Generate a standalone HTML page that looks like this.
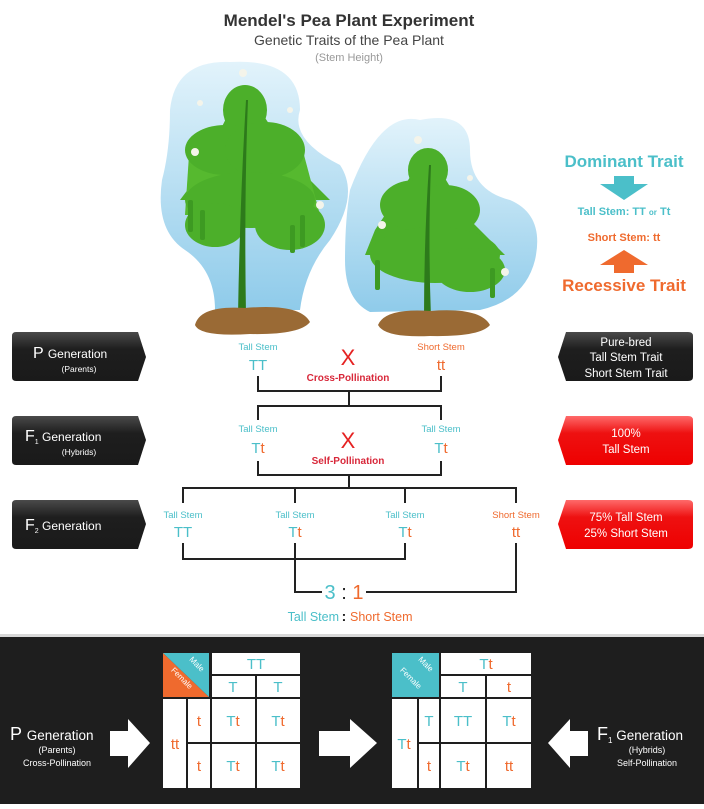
<!DOCTYPE html>
<html><head><meta charset="utf-8"><style>
body{margin:0;background:#fff;}
svg text{font-family:"Liberation Sans",sans-serif;}
</style></head><body>
<svg width="704" height="804" viewBox="0 0 704 804" xmlns="http://www.w3.org/2000/svg">
<defs>
<linearGradient id="sky" x1="0" y1="0" x2="0" y2="1"><stop offset="0" stop-color="#e2f3fb"/><stop offset="1" stop-color="#8fcbea"/></linearGradient>
<linearGradient id="dk" x1="0" y1="0" x2="0" y2="1"><stop offset="0" stop-color="#4a4a4a"/><stop offset="0.35" stop-color="#1e1e1e"/><stop offset="1" stop-color="#1a1a1a"/></linearGradient>
<linearGradient id="rd" x1="0" y1="0" x2="0" y2="1"><stop offset="0" stop-color="#ff6a6a"/><stop offset="0.35" stop-color="#ee1111"/><stop offset="1" stop-color="#e00"/></linearGradient>
</defs>
<text x="349" y="26" text-anchor="middle" font-size="17" font-weight="bold" fill="#333">Mendel's Pea Plant Experiment</text>
<text x="349" y="45" text-anchor="middle" font-size="14" fill="#444">Genetic Traits of the Pea Plant</text>
<text x="349" y="61" text-anchor="middle" font-size="11" fill="#999">(Stem Height)</text>

<path d="M170,110 Q175,60 230,62 Q300,58 300,110 Q290,140 340,165 Q360,195 330,240 Q305,270 300,310 L215,310 Q215,270 185,250 Q155,230 162,180 Q170,150 170,110Z" fill="url(#sky)"/>
<path d="M350,190 Q380,110 420,120 Q470,110 470,150 Q470,190 510,200 Q545,215 535,260 Q525,300 480,310 L370,312 Q345,300 345,260 Q345,220 350,190Z" fill="url(#sky)"/>
<g fill="#4caf2a">
<path d="M243,85 L195,180 L180,200 L330,200 L300,170Z"/>
<path d="M190,140 L300,140 L320,215 L185,215Z" fill="#56b92f"/>
<ellipse cx="245" cy="110" rx="22" ry="25"/>
<ellipse cx="225" cy="150" rx="40" ry="25"/>
<ellipse cx="265" cy="150" rx="40" ry="28"/>
<ellipse cx="250" cy="200" rx="65" ry="28"/>
<ellipse cx="290" cy="225" rx="35" ry="25"/>
<ellipse cx="215" cy="225" rx="30" ry="22"/>
</g>
<g fill="#3d9a22">
<rect x="188" y="200" width="5" height="32" rx="2"/><rect x="200" y="210" width="5" height="30" rx="2"/><rect x="300" y="215" width="5" height="32" rx="2"/><rect x="290" y="225" width="5" height="28" rx="2"/>
</g>
<path d="M248,100 Q244,200 246,315 L238,315 Q240,200 246,100Z" fill="#2d7a1b"/>
<path d="M195,325 Q200,305 245,308 Q300,303 310,322 Q300,335 250,334 Q200,337 195,325Z" fill="#9a6a35"/>
<g fill="#4caf2a">
<path d="M428,150 L375,230 L365,255 L505,255 L470,220Z"/>
<ellipse cx="428" cy="170" rx="20" ry="22"/>
<ellipse cx="415" cy="205" rx="35" ry="25"/>
<ellipse cx="445" cy="210" rx="35" ry="25"/>
<ellipse cx="435" cy="255" rx="65" ry="28"/>
<ellipse cx="470" cy="270" rx="35" ry="22"/>
</g>
<g fill="#3d9a22"><rect x="375" y="260" width="5" height="30" rx="2"/><rect x="490" y="268" width="5" height="30" rx="2"/></g>
<path d="M431,165 Q428,240 431,318 L424,318 Q424,240 429,165Z" fill="#2d7a1b"/>
<path d="M378,325 Q385,308 430,311 Q480,307 490,325 Q480,337 430,336 Q385,338 378,325Z" fill="#9a6a35"/>
<g fill="#f4f4ea"><circle cx="243" cy="73" r="4"/><circle cx="200" cy="103" r="3"/><circle cx="195" cy="152" r="4"/><circle cx="320" cy="205" r="4"/><circle cx="290" cy="110" r="3"/><circle cx="418" cy="140" r="4"/><circle cx="382" cy="225" r="4"/><circle cx="505" cy="272" r="4"/><circle cx="470" cy="178" r="3"/></g>

<text x="624" y="167" text-anchor="middle" font-size="17" font-weight="bold" fill="#4bbfc9">Dominant Trait</text>
<path d="M614,176 L634,176 L634,184 L648,184 L624,200 L600,184 L614,184Z" fill="#4bbfc9"/>
<text x="624" y="215" text-anchor="middle" font-size="11" font-weight="bold" fill="#4bbfc9">Tall Stem: TT <tspan font-size="8">or</tspan> Tt</text>
<text x="624" y="241" text-anchor="middle" font-size="11" font-weight="bold" fill="#ef6a2e">Short Stem: tt</text>
<path d="M614,273 L634,273 L634,265 L648,265 L624,250 L600,265 L614,265Z" fill="#ef6a2e"/>
<text x="624" y="291" text-anchor="middle" font-size="17" font-weight="bold" fill="#ef6a2e">Recessive Trait</text>

<g fill="url(#dk)">
<path d="M16,332 L138,332 L146,357 L138,381 L16,381 Q12,381 12,377 L12,336 Q12,332 16,332Z"/>
<path d="M16,416 L138,416 L146,440 L138,465 L16,465 Q12,465 12,461 L12,420 Q12,416 16,416Z"/>
<path d="M16,500 L138,500 L146,524 L138,549 L16,549 Q12,549 12,545 L12,504 Q12,500 16,500Z"/>
</g>
<g fill="#fff">
<text x="33" y="358" font-size="16">P <tspan font-size="12">Generation</tspan></text>
<text x="79" y="372" text-anchor="middle" font-size="8.5">(Parents)</text>
<text x="25" y="441" font-size="16">F<tspan font-size="7" dy="3">1</tspan><tspan font-size="12" dy="-3"> Generation</tspan></text>
<text x="79" y="455" text-anchor="middle" font-size="8.5">(Hybrids)</text>
<text x="25" y="530" font-size="16">F<tspan font-size="7" dy="3">2</tspan><tspan font-size="12" dy="-3"> Generation</tspan></text>
</g>
<path d="M566,332 L688,332 Q693,332 693,336 L693,377 Q693,381 688,381 L566,381 L558,357Z" fill="url(#dk)"/>
<path d="M566,416 L688,416 Q693,416 693,420 L693,461 Q693,465 688,465 L566,465 L558,440Z" fill="url(#rd)"/>
<path d="M566,500 L688,500 Q693,500 693,504 L693,545 Q693,549 688,549 L566,549 L558,524Z" fill="url(#rd)"/>
<g fill="#fff" font-size="11.5" text-anchor="middle">
<text x="626" y="346">Pure-bred</text><text x="626" y="361">Tall Stem Trait</text><text x="626" y="377">Short Stem Trait</text>
<text x="626" y="437">100%</text><text x="626" y="453">Tall Stem</text>
<text x="626" y="521">75% Tall Stem</text><text x="626" y="537">25% Short Stem</text>
</g>

<g stroke="#222" stroke-width="2" fill="none">
<path d="M258,376 V391 H441 V376 M349,391 V406 M258,420 V406 H441 V420"/>
<path d="M258,461 V475 H441 V461 M349,475 V488 M183,503 V488 H516 V503 M295,488 V503 M405,488 V503"/>
<path d="M183,543 V559 H405 V543 M295,543 V592 H322 M516,543 V592 H366"/>
</g>
<g font-size="9.5" text-anchor="middle">
<text x="258" y="350" fill="#4bbfc9">Tall Stem</text>
<text x="441" y="350" fill="#ef6a2e">Short Stem</text>
<text x="258" y="432" fill="#4bbfc9">Tall Stem</text>
<text x="441" y="432" fill="#4bbfc9">Tall Stem</text>
<text x="183" y="518" fill="#4bbfc9">Tall Stem</text>
<text x="295" y="518" fill="#4bbfc9">Tall Stem</text>
<text x="405" y="518" fill="#4bbfc9">Tall Stem</text>
<text x="516" y="518" fill="#ef6a2e">Short Stem</text>
</g>
<g font-size="15" text-anchor="middle">
<text x="258" y="370" fill="#4bbfc9">TT</text>
<text x="441" y="370" fill="#ef6a2e">tt</text>
<text x="258" y="453" fill="#4bbfc9">T<tspan fill="#ef6a2e">t</tspan></text>
<text x="441" y="453" fill="#4bbfc9">T<tspan fill="#ef6a2e">t</tspan></text>
<text x="183" y="537" fill="#4bbfc9">TT</text>
<text x="295" y="537" fill="#4bbfc9">T<tspan fill="#ef6a2e">t</tspan></text>
<text x="405" y="537" fill="#4bbfc9">T<tspan fill="#ef6a2e">t</tspan></text>
<text x="516" y="537" fill="#ef6a2e">tt</text>
</g>
<text x="348" y="365" text-anchor="middle" font-size="22" fill="#e52222">X</text>
<text x="348" y="381" text-anchor="middle" font-size="10" font-weight="bold" fill="#d8283a">Cross-Pollination</text>
<text x="348" y="448" text-anchor="middle" font-size="22" fill="#e52222">X</text>
<text x="348" y="464" text-anchor="middle" font-size="10" font-weight="bold" fill="#d8283a">Self-Pollination</text>
<text x="344" y="599" text-anchor="middle" font-size="20" fill="#4bbfc9"><tspan>3</tspan><tspan fill="#222"> : </tspan><tspan fill="#ef6a2e">1</tspan></text>
<text x="339" y="621" text-anchor="end" font-size="12.5" fill="#4bbfc9">Tall Stem</text>
<text x="344" y="621" text-anchor="middle" font-size="14" font-weight="bold" fill="#222">:</text>
<text x="350" y="621" font-size="12.5" fill="#ef6a2e">Short Stem</text>

<rect x="0" y="634" width="704" height="170" fill="#1e1e1e"/>
<rect x="0" y="634" width="704" height="3" fill="#d8d8d8"/>
<text x="10" y="740" font-size="18" fill="#fff">P <tspan font-size="13.5">Generation</tspan></text>
<text x="57" y="753" text-anchor="middle" font-size="9" fill="#fff">(Parents)</text>
<text x="57" y="766" text-anchor="middle" font-size="9" fill="#fff">Cross-Pollination</text>
<text x="597" y="740" font-size="18" fill="#fff">F<tspan font-size="8" dy="3">1</tspan><tspan font-size="13.5" dy="-3"> Generation</tspan></text>
<text x="647" y="753" text-anchor="middle" font-size="9" fill="#fff">(Hybrids)</text>
<text x="647" y="766" text-anchor="middle" font-size="9" fill="#fff">Self-Pollination</text>
<g fill="#fff">
<path d="M110,731 L128,731 L128,719 L150,743 L128,768 L128,756 L110,756Z"/>
<path d="M319,731 L350,731 L350,719 L377,743 L350,768 L350,756 L319,756Z"/>
<path d="M588,731 L570,731 L570,719 L548,743 L570,768 L570,756 L588,756Z"/>
</g>
<g>
<rect x="161" y="651" width="140" height="138" fill="#1e1e1e"/>
<path d="M163,653 L209,697 L163,697Z" fill="#ef6a2e"/>
<path d="M163,653 L209,653 L209,697Z" fill="#4bbfc9"/>
<g fill="#fff">
<rect x="212" y="653" width="88" height="21"/>
<rect x="212" y="676" width="43" height="21"/><rect x="257" y="676" width="43" height="21"/>
<rect x="163" y="699" width="23" height="89"/><rect x="188" y="699" width="22" height="43"/><rect x="188" y="744" width="22" height="44"/>
<rect x="212" y="699" width="43" height="43"/><rect x="257" y="699" width="43" height="43"/>
<rect x="212" y="744" width="43" height="44"/><rect x="257" y="744" width="43" height="44"/>
</g>
<text x="195" y="666" font-size="8" fill="#fff" transform="rotate(45 195 666)" text-anchor="middle">Male</text>
<text x="180" y="680" font-size="8" fill="#fff" transform="rotate(45 180 680)" text-anchor="middle">Female</text>
<g font-size="15" text-anchor="middle" fill="#4bbfc9">
<text x="256" y="669">TT</text><text x="233" y="692">T</text><text x="278" y="692">T</text>
<text x="175" y="749" fill="#ef6a2e">tt</text>
<text x="199" y="726" fill="#ef6a2e">t</text><text x="199" y="771" fill="#ef6a2e">t</text>
<text x="233" y="726">T<tspan fill="#ef6a2e">t</tspan></text><text x="278" y="726">T<tspan fill="#ef6a2e">t</tspan></text>
<text x="233" y="771">T<tspan fill="#ef6a2e">t</tspan></text><text x="278" y="771">T<tspan fill="#ef6a2e">t</tspan></text>
</g>
</g>
<g>
<rect x="390" y="651" width="142" height="138" fill="#1e1e1e"/>
<rect x="392" y="653" width="47" height="44" fill="#4bbfc9"/>
<g fill="#fff">
<rect x="441" y="653" width="90" height="21"/>
<rect x="441" y="676" width="44" height="21"/><rect x="487" y="676" width="44" height="21"/>
<rect x="392" y="699" width="25" height="89"/><rect x="419" y="699" width="20" height="43"/><rect x="419" y="744" width="20" height="44"/>
<rect x="441" y="699" width="44" height="43"/><rect x="487" y="699" width="44" height="43"/>
<rect x="441" y="744" width="44" height="44"/><rect x="487" y="744" width="44" height="44"/>
</g>
<text x="424" y="666" font-size="8" fill="#fff" transform="rotate(45 424 666)" text-anchor="middle">Male</text>
<text x="409" y="680" font-size="8" fill="#fff" transform="rotate(45 409 680)" text-anchor="middle">Female</text>
<g font-size="15" text-anchor="middle" fill="#4bbfc9">
<text x="486" y="669">T<tspan fill="#ef6a2e">t</tspan></text><text x="463" y="692">T</text><text x="509" y="692" fill="#ef6a2e">t</text>
<text x="404" y="749">T<tspan fill="#ef6a2e">t</tspan></text>
<text x="429" y="726">T</text><text x="429" y="771" fill="#ef6a2e">t</text>
<text x="463" y="726">TT</text><text x="509" y="726">T<tspan fill="#ef6a2e">t</tspan></text>
<text x="463" y="771">T<tspan fill="#ef6a2e">t</tspan></text><text x="509" y="771" fill="#ef6a2e">tt</text>
</g>
</g>
</svg>
</body></html>
